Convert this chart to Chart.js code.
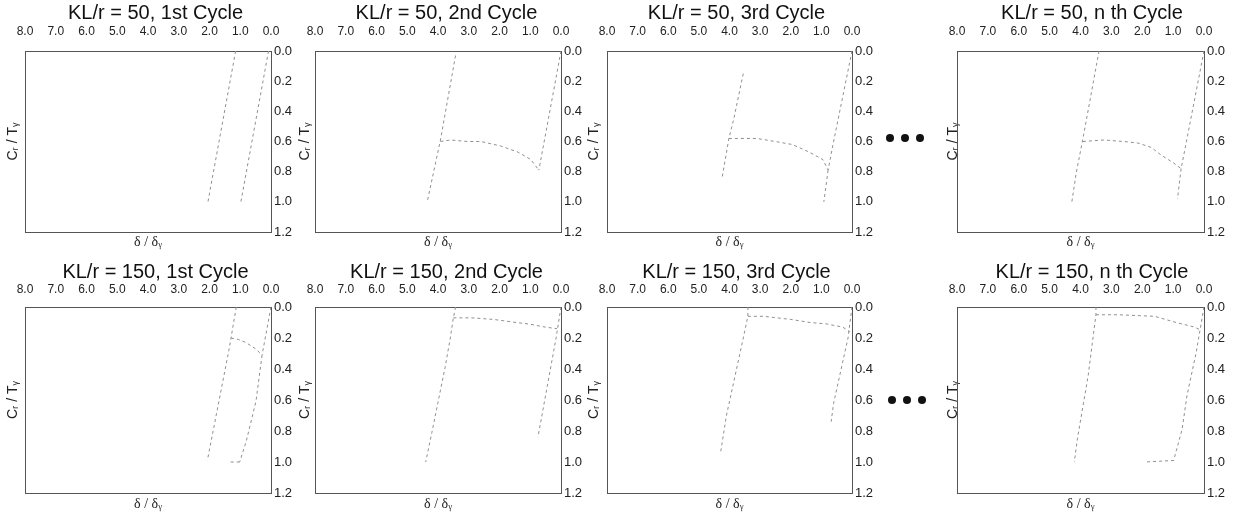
<!DOCTYPE html>
<html>
<head>
<meta charset="utf-8">
<title>Ciclos KL/r</title>
<script src="https://cdn.jsdelivr.net/npm/chart.js@4.4.0/dist/chart.umd.min.js"></script>
<style>
    html, body { margin: 0; padding: 0; background: #fff; }
    body { position: relative; width: 1242px; height: 519px; overflow: hidden; }
    canvas { position: absolute; }
    .puntos { position: absolute; height: 8px; line-height: 0; }
    .puntos span { display: inline-block; width: 8px; height: 8px; border-radius: 50%; background: #111; margin-right: 7px; }
</style>
</head>
<body>
<div class="puntos" style="left:886px;top:134px"><span></span><span></span><span></span></div>
<div class="puntos" style="left:888px;top:396px"><span></span><span></span><span></span></div>
<script>
// Titulos de cada panel
var titulos = [
    'KL/r = 50, 1st Cycle', 'KL/r = 50, 2nd Cycle', 'KL/r = 50, 3rd Cycle', 'KL/r = 50, n th Cycle',
    'KL/r = 150, 1st Cycle', 'KL/r = 150, 2nd Cycle', 'KL/r = 150, 3rd Cycle', 'KL/r = 150, n th Cycle'
];
var tituloY = 'Cᵣ / Tᵧ';
var tituloX = 'δ / δᵧ';

// Ticks de los ejes
var ticksX = [0, 1, 2, 3, 4, 5, 6, 7, 8];
var ticksY = [0, 0.2, 0.4, 0.6, 0.8, 1.0, 1.2];

// Tramos de cada ciclo: pares [δ/δy, C/Ty]
var kl50c1 = [
    [[0.08, 0.0], [0.98, 1.0]],
    [[1.15, 0.0], [2.05, 1.0]]
];
var kl50c2 = [
    [[3.43, 0.03], [3.92, 0.59], [4.35, 1.0]],
    [[3.92, 0.6], [3.6, 0.59], [3.04, 0.6], [2.6, 0.6], [1.96, 0.63], [1.4, 0.67], [0.98, 0.72], [0.72, 0.79]],
    [[0.0, 0.0], [0.72, 0.79]]
];
var kl50c3 = [
    [[3.55, 0.15], [3.86, 0.45], [4.02, 0.58], [4.25, 0.85]],
    [[4.02, 0.58], [3.5, 0.58], [3.1, 0.58], [2.5, 0.6], [1.95, 0.62], [1.4, 0.67], [0.95, 0.72], [0.78, 0.79]],
    [[0.0, 0.0], [0.65, 0.65], [0.78, 0.79]],
    [[0.78, 0.79], [0.92, 1.0]]
];
var kl50cn = [
    [[3.4, 0.0], [3.92, 0.58], [4.14, 0.81], [4.28, 1.0]],
    [[3.92, 0.6], [3.24, 0.59], [2.6, 0.6], [2.14, 0.61], [1.7, 0.64], [1.39, 0.69], [1.0, 0.74], [0.74, 0.78]],
    [[0.0, 0.0], [0.74, 0.78]],
    [[0.74, 0.78], [0.86, 0.98]]
];
var kl150c1 = [
    [[1.13, 0.0], [1.3, 0.2], [1.38, 0.29], [2.07, 0.99]],
    [[1.3, 0.2], [1.05, 0.21], [0.81, 0.23], [0.5, 0.27], [0.29, 0.31]],
    [[0.0, 0.0], [0.29, 0.31]],
    [[0.29, 0.31], [0.49, 0.61], [0.81, 0.87], [1.02, 1.0]],
    [[1.02, 1.0], [1.32, 1.0]]
];
var kl150c2 = [
    [[3.43, 0.0], [3.5, 0.07], [3.6, 0.2], [3.77, 0.39], [4.2, 0.81], [4.4, 1.0]],
    [[3.5, 0.07], [2.9, 0.07], [2.2, 0.08], [1.46, 0.1], [1.04, 0.11], [0.5, 0.13], [0.13, 0.14]],
    [[0.0, 0.0], [0.16, 0.2], [0.75, 0.84]]
];
var kl150c3 = [
    [[3.4, 0.0], [3.4, 0.06], [3.55, 0.2], [4.1, 0.7], [4.3, 0.95]],
    [[3.4, 0.06], [2.9, 0.06], [2.0, 0.08], [1.37, 0.1], [0.8, 0.11], [0.3, 0.13], [0.07, 0.16]],
    [[0.0, 0.0], [0.13, 0.2], [0.6, 0.62], [0.68, 0.74]]
];
var kl150cn = [
    [[3.5, 0.0], [3.5, 0.05], [3.75, 0.44], [4.1, 0.85], [4.2, 1.0]],
    [[3.5, 0.05], [2.8, 0.05], [1.6, 0.06], [0.9, 0.1], [0.3, 0.13], [0.1, 0.15]],
    [[0.0, 0.0], [0.26, 0.3], [0.55, 0.57], [0.71, 0.79], [0.97, 0.98]],
    [[0.97, 0.99], [1.9, 1.0]]
];
var curvas = [kl50c1, kl50c2, kl50c3, kl50cn, kl150c1, kl150c2, kl150c3, kl150cn];

// Posiciones de los paneles (px de pagina)
var plotIzq = [25, 315, 607, 957];
var plotDer = [271, 561, 852, 1204];
var etiquetaYX = [13, 305, 594, 953];
var filaTop = [0, 259];
var filaAlto = [259, 260];
var plotTop = [51, 48];
var plotBottom = [232, 234];
var padTicksX = [12, 10];
var padTituloX = [8, 6];

var fuente = "'Liberation Sans', Arial, sans-serif";

document.addEventListener('DOMContentLoaded', function () {
    for (var i = 0; i < 8; i++) {
        creaPanel(i);
    }
});

// Crea una grafica para el panel indicado
function creaPanel(idx) {
    var fila = Math.floor(idx / 4);
    var col = idx % 4;
    var izq = etiquetaYX[col] - 13;
    var ancho = plotDer[col] + 40 - izq;

    var canvas = document.createElement('canvas');
    canvas.width = ancho;
    canvas.height = filaAlto[fila];
    canvas.style.left = izq + 'px';
    canvas.style.top = filaTop[fila] + 'px';
    document.body.appendChild(canvas);

    var datasets = curvas[idx].map(function (tramo) {
        return {
            data: tramo.map(function (p) { return { x: p[0], y: p[1] }; }),
            borderColor: '#8f8f8f',
            borderWidth: 1,
            borderDash: [3, 3],
            pointRadius: 0,
            tension: 0,
            fill: false
        };
    });

    var altoTitulo = 20 * 1.2 + 1;

    new Chart(canvas, {
        type: 'line',
        data: { datasets: datasets },
        options: {
            responsive: false,
            animation: false,
            devicePixelRatio: 1,
            layout: { padding: 0 },
            plugins: {
                legend: { display: false },
                tooltip: { enabled: false },
                title: {
                    display: true,
                    text: titulos[idx],
                    color: '#111',
                    font: { family: fuente, size: 20, weight: 'normal' },
                    padding: { top: 1, bottom: 0 }
                }
            },
            scales: {
                x: {
                    type: 'linear',
                    position: 'top',
                    reverse: true,
                    min: 0,
                    max: 8,
                    grid: { display: false, drawTicks: false },
                    border: { display: true, color: '#555', width: 1 },
                    afterBuildTicks: function (s) {
                        s.ticks = ticksX.map(function (v) { return { value: v }; });
                    },
                    ticks: {
                        autoSkip: false,
                        maxRotation: 0,
                        padding: padTicksX[fila],
                        color: '#222',
                        font: { family: fuente, size: 12 },
                        callback: function (v) { return Number(v).toFixed(1); }
                    },
                    afterFit: function (s) { s.height = plotTop[fila] - altoTitulo; }
                },
                y: {
                    type: 'linear',
                    position: 'right',
                    reverse: true,
                    min: 0,
                    max: 1.2,
                    grid: { display: false, drawTicks: false },
                    border: { display: true, color: '#555', width: 1 },
                    afterBuildTicks: function (s) {
                        s.ticks = ticksY.map(function (v) { return { value: v }; });
                    },
                    ticks: {
                        padding: 3,
                        color: '#222',
                        font: { family: fuente, size: 13 },
                        callback: function (v) { return Number(v).toFixed(1); }
                    },
                    afterFit: function (s) { s.width = 40; }
                },
                xB: {
                    type: 'linear',
                    axis: 'x',
                    position: 'bottom',
                    min: 0,
                    max: 1,
                    grid: { display: false, drawTicks: false },
                    border: { display: true, color: '#555', width: 1 },
                    ticks: { display: false },
                    title: {
                        display: true,
                        text: tituloX,
                        color: '#222',
                        font: { family: "'Liberation Serif', serif", size: 14 },
                        padding: padTituloX[fila]
                    },
                    afterFit: function (s) { s.height = filaAlto[fila] - plotBottom[fila]; }
                },
                yL: {
                    type: 'linear',
                    axis: 'y',
                    position: 'left',
                    min: 0,
                    max: 1,
                    grid: { display: false, drawTicks: false },
                    border: { display: true, color: '#555', width: 1 },
                    ticks: { display: false },
                    title: {
                        display: true,
                        text: tituloY,
                        color: '#222',
                        font: { family: fuente, size: 14 },
                        padding: 5
                    },
                    afterFit: function (s) { s.width = plotIzq[col] - izq; }
                }
            }
        }
    });
}
</script>
</body>
</html>
